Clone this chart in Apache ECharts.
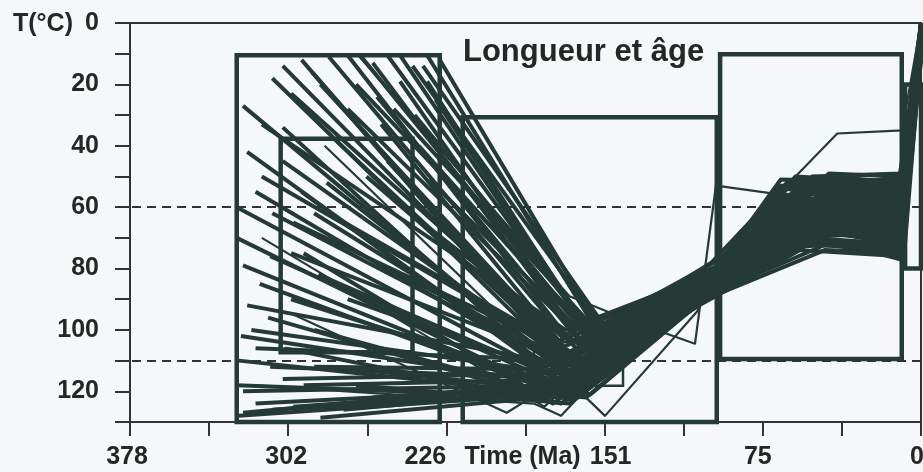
<!DOCTYPE html>
<html>
<head>
<meta charset="utf-8">
<script src="https://cdn.jsdelivr.net/npm/echarts@6/dist/echarts.min.js"></script>
<style>
html,body{margin:0;padding:0;background:#f5f8f9;}
#chart{width:923px;height:472px;}
</style>
</head>
<body>
<div id="chart"></div>
<script>
// ---- data (time in Ma, temperature in °C) ----
const xTickLabels = ['0', '75', '151', '226', '302', '378'];   // every other tick (75.6 Ma steps)
const yLabelStep = 20;
const isotherms = [60, 110];

// constraint boxes: [oldest Ma, youngest Ma, T top, T bottom]
const boxes = [
  [327, 230, 10.5, 130],
  [306, 243, 37.7, 107.3],
  [219, 97.6, 30.7, 130],
  [96, 9.2, 10.2, 109.5],
  [7.6, 0, 20, 80]
];
const smallBoxes = [
  [185, 142.4, 104, 118.2]
];

// good-fit paths
const goodPaths = [
  [[305,14],[175,104],[104,86],[67,51],[10,52],[0,2]],
  [[274,10.5],[165,106],[100,84],[60,58],[9,62],[0,4]],
  [[249,10.5],[158,102],[98,82],[55,55],[10,56],[0,1]],
  [[236,10.5],[155,100],[102,83],[50,60],[9,68],[0,5]],
  [[262,13],[162,104],[105,88],[44,49],[10,50],[0,0]],
  [[324,27],[178,110],[100,87],[62,66],[8,72],[0,3]],
  [[287,20],[168,108],[103,85],[58,62],[10,60],[0,6]],
  [[301,23],[172,102],[99,81],[65,56],[9,54],[0,2]],
  [[305,34],[180,112],[106,90],[45,72],[10,76],[0,0]],
  [[322,42],[176,114],[101,88],[52,70],[9,66],[0,4]],
  [[249,19],[160,106],[100,86],[40,56],[8,58],[0,7]],
  [[274,28],[166,100],[97,80],[67,53],[10,53],[0,1]],
  [[236,19],[156,104],[103,84],[48,60],[9,63],[0,3]],
  [[230,12],[154,99],[98,80],[55,52],[10,51],[0,5]],
  [[291,16],[170,110],[104,89],[38,65],[8,70],[0,2]],
  [[260,24],[158,108],[101,85],[60,64],[9,60],[0,0]],
  [[280,38],[164,112],[99,83],[70,62],[10,57],[0,6]],
  [[242,30],[154,103],[100,82],[50,52],[9,55],[0,3]],
  [[255,45],[160,114],[105,90],[58,72],[10,74],[0,1]],
  [[315,33],[170,100],[98,81],[64,54],[8,62],[0,4]],
  [[327,60],[170,117],[102,87],[45,58],[9,65],[0,2]],
  [[290,62],[165,115],[104,88],[55,66],[10,69],[0,5]],
  [[278,64],[160,110],[100,84],[67,57],[9,52],[0,0]],
  [[324,79],[168,122],[106,91],[48,70],[10,77],[0,3]],
  [[311,76],[172,118],[101,86],[60,60],[8,64],[0,6]],
  [[301,75],[162,112],[99,84],[52,55],[10,58],[0,1]],
  [[295,75],[176,124],[105,90],[62,73],[9,71],[0,4]],
  [[322,92],[165,112],[97,82],[44,50],[10,52],[0,2]],
  [[325,102],[170,118],[103,87],[57,64],[9,67],[0,7]],
  [[301,90],[158,121],[102,89],[42,68],[8,73],[0,0]],
  [[315,50],[168,108],[100,85],[66,60],[10,59],[0,3]],
  [[296,55],[174,116],[104,88],[50,63],[9,61],[0,5]],
  [[265,50],[160,112],[99,86],[58,68],[10,66],[0,2]],
  [[250,70],[163,118],[103,90],[46,74],[9,75],[0,1]],
  [[311,112],[168,116],[100,85],[63,58],[10,55],[0,4]],
  [[305,116],[162,114],[98,83],[54,62],[8,57],[0,0]],
  [[324,120],[172,118],[104,87],[68,64],[9,63],[0,6]],
  [[324,127],[166,117],[101,86],[47,66],[10,70],[0,3]],
  [[287,128.6],[164,121],[105,89],[60,70],[9,68],[0,2]],
  [[282,112],[170,120],[102,88],[53,57],[10,62],[0,5]],
  [[318,124],[175,119],[106,88],[41,62],[8,66],[0,1]],
  [[300,125],[158,118],[100,86],[64,66],[10,64],[0,4]],
  [[326,110],[160,122],[103,89],[56,70],[9,72],[0,0]],
  [[270,118],[168,124],[107,92],[50,67],[10,60],[0,3]],
  [[235,51],[156,105],[99,82],[61,55],[9,50],[0,2]],
  [[274,90],[170,115],[102,85],[43,54],[10,54],[0,6]],
  [[310,62],[174,110],[100,83],[57,53],[8,56],[0,1]],
  [[290,100],[166,123],[104,90],[66,72],[10,73],[0,4]],
  [[268,10.5],[160,101],[101,84],[62,60],[9,58],[0,8]],
  [[255,10.5],[156,103],[99,80],[52,50],[10,49],[0,3]],
  [[243,14],[152,100],[100,78],[64,52],[9,56],[0,10]],
  [[283,11],[168,104],[104,86],[48,56],[10,61],[0,5]],
  [[296,12],[174,109],[105,89],[59,69],[8,69],[0,12]],
  [[232,25],[153,106],[98,83],[44,58],[10,64],[0,2]],
  [[258,33],[164,111],[102,87],[68,66],[9,70],[0,6]],
  [[240,40],[151,108],[100,84],[55,64],[10,62],[0,4]],
  [[270,20],[160,99],[97,79],[60,50],[9,52],[0,9]],
  [[310,18],[176,107],[103,86],[50,66],[8,60],[0,1]],
  [[252,28],[150,104],[98,81],[65,63],[10,67],[0,7]],
  [[238,14],[152,98],[96,77],[66,54],[9,51],[0,3]],
  [[318,55],[176,112],[101,84],[63,62],[10,65],[0,11]],
  [[305,45],[170,110],[100,86],[56,58],[9,59],[0,2]],
  [[284,52],[164,116],[104,88],[46,62],[10,68],[0,5]],
  [[327,70],[178,120],[105,91],[61,70],[8,75],[0,8]],
  [[300,65],[160,110],[98,82],[69,60],[9,57],[0,1]],
  [[288,82],[166,118],[102,87],[54,68],[10,71],[0,6]],
  [[316,85],[172,121],[106,92],[58,74],[9,76],[0,3]],
  [[260,78],[155,115],[99,85],[47,57],[10,59],[0,10]],
  [[244,62],[150,112],[97,82],[62,56],[9,54],[0,4]],
  [[320,100],[175,114],[101,86],[64,60],[10,63],[0,7]],
  [[327,118],[170,122],[104,89],[52,64],[9,66],[0,2]],
  [[310,126],[165,120],[102,86],[59,61],[10,58],[0,9]],
  [[295,118],[160,116],[100,84],[45,54],[8,55],[0,5]],
  [[318,106],[168,110],[99,83],[67,58],[10,56],[0,1]],
  [[276,126],[162,119],[103,88],[49,67],[9,68],[0,12]],
  [[326,128],[176,121],[106,90],[56,71],[10,72],[0,4]],
  [[304,106],[172,124],[105,91],[61,67],[9,65],[0,8]],
  [[262,122],[158,117],[101,86],[51,59],[10,60],[0,3]],
  [[290,112],[164,113],[98,83],[58,55],[8,53],[0,6]],
  [[312,96],[180,122],[104,88],[44,63],[10,64],[0,0]]
];

// acceptable-fit paths (thin)
const otherPaths = [
  [[269,10.5],[168,89],[139,97],[108,104.5],[98,53],[66,56],[10,51],[0,2]],
  [[285,40],[151,128],[107,94],[90,71],[40,36],[9,35],[0,0]],
  [[300,95],[198,127],[165,113],[100,86],[55,62],[9,60],[0,3]],
  [[315,70],[180,125],[152,108],[103,84],[60,58],[10,57],[0,1]],
  [[320,118],[185,124],[172,128],[150,112],[100,85],[50,60],[9,62],[0,5]]
];

// ---- styling ----
const INK = '#263a35';
const AXIS = '#333333';
const TXT = '#262626';
const FONT = '"Liberation Sans", Arial, Helvetica, sans-serif';

function rect(b) {
  return [[b[0], b[2]], [b[1], b[2]], [b[1], b[3]], [b[0], b[3]], [b[0], b[2]]];
}

const series = [];
boxes.forEach((b, i) => {
  const s = {
    type: 'line', data: rect(b), symbol: 'none', silent: true, clip: false,
    lineStyle: { color: INK, width: 4.5, join: 'miter', cap: 'square' }, z: 3
  };
  if (i === 0) {
    s.markLine = {
      silent: true, symbol: ['none', 'none'], label: { show: false },
      lineStyle: { type: [9, 6], color: AXIS, width: 2 },
      data: isotherms.map(v => ({ yAxis: v })), z: 1
    };
  }
  series.push(s);
});
smallBoxes.forEach(b => series.push({
  type: 'line', data: rect(b), symbol: 'none', silent: true, clip: false,
  lineStyle: { color: INK, width: 2.5, join: 'miter' }, z: 3
}));
goodPaths.forEach(p => series.push({
  type: 'line', data: p, symbol: 'none', silent: true,
  lineStyle: { color: INK, width: 4, join: 'round' }, z: 4
}));
otherPaths.forEach(p => series.push({
  type: 'line', data: p, symbol: 'none', silent: true,
  lineStyle: { color: INK, width: 2.2, join: 'round' }, z: 4
}));

const labelPad = { l0: [0, 8, 0, 0], l1: [0, 10, 0, 0], l2: [0, 0, 0, 12], l3: [0, 42, 0, 0], l4: [0, 4, 0, 0], l5: [0, 6, 0, 0] };
const rich = {};
Object.keys(labelPad).forEach(k => {
  rich[k] = { fontSize: 25, fontWeight: 'bold', fontFamily: FONT, color: TXT, padding: labelPad[k] };
});

const option = {
  backgroundColor: '#f5f8f9',
  animation: false,
  grid: { left: 130, right: 2, top: 23, bottom: 50, containLabel: false, outerBoundsMode: 'none' },
  xAxis: [{
    type: 'value', inverse: true, min: 0, max: 378, interval: 37.8,
    axisLine: { show: true, onZero: false, lineStyle: { color: AXIS, width: 2 } },
    axisTick: { show: true, inside: false, length: 14, lineStyle: { color: AXIS, width: 2 } },
    splitLine: { show: false },
    axisLabel: {
      show: true, margin: 23, rich: rich,
      formatter: function (v) {
        const k = Math.round(v / 37.8);
        if (k % 2 !== 0) return '';
        const i = k / 2;
        return '{l' + i + '|' + xTickLabels[i] + '}';
      }
    },
    name: 'Time (Ma)', nameLocation: 'middle', nameGap: 23, nameMoveOverlap: false,
    nameTextStyle: { fontSize: 25, fontWeight: 'bold', fontFamily: FONT, color: TXT, padding: [0, 6, 0, 0] }
  }, {
    type: 'value', inverse: true, min: 0, max: 378, position: 'top',
    axisLine: { show: true, onZero: false, lineStyle: { color: AXIS, width: 2 } },
    axisTick: { show: false }, axisLabel: { show: false }, splitLine: { show: false }
  }],
  yAxis: [{
    type: 'value', inverse: true, min: 0, max: 130, interval: 10,
    axisLine: { show: true, onZero: false, lineStyle: { color: AXIS, width: 2 } },
    axisTick: { show: true, inside: false, length: 15, lineStyle: { color: AXIS, width: 2 } },
    splitLine: { show: false },
    axisLabel: {
      show: true, margin: 31, fontSize: 25, fontWeight: 'bold', fontFamily: FONT, color: TXT,
      formatter: v => (Math.round(v) % yLabelStep === 0 ? String(Math.round(v)) : '')
    }
  }, {
    type: 'value', inverse: true, min: 0, max: 130, position: 'right',
    axisLine: { show: true, onZero: false, lineStyle: { color: AXIS, width: 2 } },
    axisTick: { show: false }, axisLabel: { show: false }, splitLine: { show: false }
  }],
  graphic: [
    { type: 'text', x: 13, y: 24, silent: true,
      style: { text: 'T(°C)', font: 'bold 25px ' + FONT, fill: TXT, align: 'left', verticalAlign: 'middle' } },
    { type: 'text', x: 463, y: 52, silent: true, z: 10,
      style: { text: 'Longueur et âge', font: 'bold 31px ' + FONT, fill: TXT, align: 'left', verticalAlign: 'middle' } }
  ],
  series: series
};

const chart = echarts.init(document.getElementById('chart'), null, { renderer: 'canvas' });
chart.setOption(option);
</script>
</body>
</html>
